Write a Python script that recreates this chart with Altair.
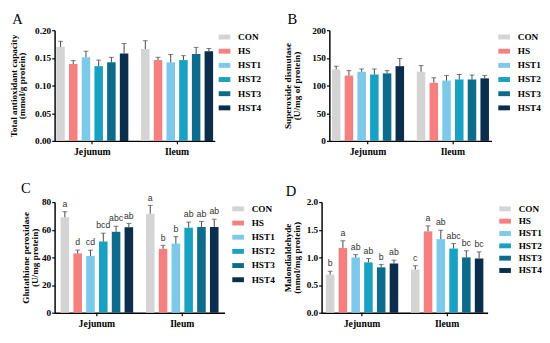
import altair as alt
import pandas as pd

groups = ["Jejunum", "Ileum"]
treatments = ["CON", "HS", "HST1", "HST2", "HST3", "HST4"]
colors = ["#d4d4d4", "#f58080", "#7cc9ea", "#18a1c1", "#0d6b8b", "#0a2e4c"]

# Panel A: Total antioxidant capacity (Jejunum x6, Ileum x6)
tac_mean = [0.170, 0.139, 0.151, 0.135, 0.142, 0.158, 0.166, 0.146, 0.142, 0.146, 0.157, 0.162]
tac_err = [0.010, 0.006, 0.011, 0.011, 0.009, 0.018, 0.015, 0.005, 0.014, 0.008, 0.012, 0.005]

# Panel B: Superoxide dismutase
sod_mean = [129, 118, 125, 120, 122, 135, 125, 105, 109, 111, 111, 113]
sod_err = [6, 9, 5, 10, 5, 14, 11, 9, 9, 9, 8, 5]

# Panel C: Glutathione peroxidase
gpx_mean = [69.0, 42.9, 41.0, 51.5, 58.5, 61.8, 71.6, 46.2, 50.0, 61.5, 62.0, 62.0]
gpx_err = [4.0, 2.4, 4.2, 6.0, 4.0, 2.8, 6.0, 2.5, 5.0, 4.0, 4.0, 5.6]
gpx_letters = ["a", "d", "cd", "bcd", "abc", "ab", "a", "b", "b", "ab", "ab", "ab"]

# Panel D: Malondialdehyde
mda_mean = [0.69, 1.17, 1.00, 0.91, 0.82, 0.89, 0.78, 1.47, 1.33, 1.16, 1.00, 0.98]
mda_err = [0.06, 0.13, 0.05, 0.07, 0.05, 0.06, 0.07, 0.10, 0.16, 0.09, 0.12, 0.12]
mda_letters = ["b", "a", "ab", "ab", "b", "ab", "c", "a", "ab", "abc", "bc", "bc"]

SERIF = "Liberation Serif"
SANS = "Liberation Sans"


def make_df(mean, err, letters=None):
    rows = []
    i = 0
    for g in groups:
        for t in treatments:
            rows.append({
                "group": g,
                "treatment": t,
                "mean": mean[i],
                "top": mean[i] + err[i],
                "letter": letters[i] if letters else "",
            })
            i += 1
    return pd.DataFrame(rows)


bar_shape = "M-1,-0.42L1,-0.42L1,0.42L-1,0.42Z"


def panel(label, mean, err, ytitle, ymax, yvals, yfmt, width, pad_outer,
          letters=None, legend_x=170, row_pad=3.6, title_dx=4, title_pad=8):
    df = make_df(mean, err, letters)
    base = alt.Chart(df).encode(
        x=alt.X(
            "group:N",
            sort=groups,
            title=None,
            scale=alt.Scale(paddingInner=0.15, paddingOuter=pad_outer),
            axis=alt.Axis(
                labelAngle=0,
                labelFont=SERIF,
                labelFontWeight="bold",
                labelFontSize=10,
                labelColor="black",
                labelPadding=3,
                domainColor="black",
                domainWidth=1.5,
                tickColor="black",
                tickWidth=1.2,
                tickSize=3,
            ),
        ),
        xOffset=alt.XOffset(
            "treatment:N", sort=treatments, scale=alt.Scale(paddingInner=0.33, paddingOuter=0)
        ),
    )
    yscale = alt.Scale(domain=[0, ymax], nice=False, zero=True)
    yaxis = alt.Axis(
        values=yvals,
        format=yfmt,
        grid=False,
        labelOverlap=False,
        minExtent=0,
        labelFont=SERIF,
        labelFontWeight="bold",
        labelFontSize=9.5,
        labelColor="black",
        labelPadding=1,
        titleFont=SERIF,
        titleFontWeight="bold",
        titleFontSize=9.5,
        titleColor="black",
        titlePadding=title_pad,
        titleLineHeight=9,
        domainColor="black",
        domainWidth=1.5,
        tickColor="black",
        tickWidth=1.2,
        tickSize=3,
    )
    bars = base.mark_bar().encode(
        y=alt.Y("mean:Q", scale=yscale, title=ytitle, axis=yaxis),
        color=alt.Color(
            "treatment:N",
            sort=treatments,
            scale=alt.Scale(domain=treatments, range=colors),
            legend=alt.Legend(
                title=None,
                orient="none",
                legendX=legend_x,
                legendY=1,
                padding=0,
                symbolType=bar_shape,
                symbolSize=144,
                symbolStrokeWidth=0,
                symbolOpacity=1,
                labelFont=SERIF,
                labelFontWeight="bold",
                labelFontSize=9.5,
                labelColor="black",
                labelOffset=8,
                rowPadding=row_pad,
            ),
        ),
    )
    errs = base.mark_rule(color="#444444", strokeWidth=1).encode(
        y=alt.Y("mean:Q", scale=yscale, title=ytitle, axis=yaxis), y2="top:Q"
    )
    caps = base.mark_tick(color="#444444", thickness=1, size=5).encode(
        y=alt.Y("top:Q", scale=yscale, title=ytitle, axis=yaxis)
    )
    layers = [bars, errs, caps]
    if letters:
        txt = base.mark_text(
            dy=-5, font=SANS, fontSize=9, color="#333333", baseline="alphabetic"
        ).encode(y=alt.Y("top:Q", scale=yscale, title=ytitle, axis=yaxis), text="letter:N")
        layers.append(txt)
    return alt.layer(*layers).properties(
        width=width,
        height=114,
        title=alt.Title(
            label,
            anchor="start",
            frame="bounds",
            font=SERIF,
            fontSize=15,
            fontWeight="normal",
            color="black",
            offset=-2,
            dx=title_dx,
        ),
    )


pA = panel("A", tac_mean, tac_err, ["Total antioxidant capacity", "(mmol/g protein)"],
           0.20, [0, 0.05, 0.10, 0.15, 0.20], ".2f", 165, 0.02,
           legend_x=169, row_pad=3.6, title_dx=4, title_pad=8)
pB = panel("B", sod_mean, sod_err, ["Superoxide dismutase", "(U/mg of protein)"],
           200, [0, 50, 100, 150, 200], "d", 167, 0.03,
           legend_x=174, row_pad=3.6, title_dx=5, title_pad=11)
pC = panel("C", gpx_mean, gpx_err, ["Glutathione peroxidase", "(U/mg protein)"],
           80, [0, 20, 40, 60, 80], "d", 175, 0.07, gpx_letters,
           legend_x=183, row_pad=3.6, title_dx=0, title_pad=2)
pD = panel("D", mda_mean, mda_err, ["Malondialdehyde", "(nmol/mg protein)"],
           2.0, [0, 0.5, 1.0, 1.5, 2.0], ".1f", 171, 0.05, mda_letters,
           legend_x=183, row_pad=1.7, title_dx=3, title_pad=5)

ind = dict(color="independent", x="independent", y="independent", xOffset="independent")

row1 = alt.hconcat(pA, pB, spacing=21).resolve_scale(**ind).resolve_legend(color="independent")
row2 = alt.hconcat(pC, pD, spacing=8).resolve_scale(**ind).resolve_legend(color="independent")

chart = (
    alt.vconcat(row1, row2, spacing=25)
    .resolve_scale(**ind)
    .resolve_legend(color="independent")
    .configure_view(stroke=None)
    .properties(background="white", padding=0)
)

chart.save("out.html", embed_options={"renderer": "svg", "actions": False})
